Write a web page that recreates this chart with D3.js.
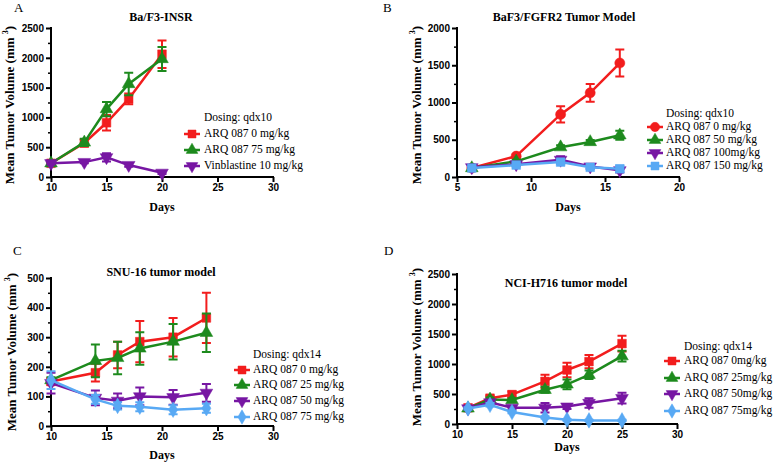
<!DOCTYPE html>
<html><head><meta charset="utf-8">
<script src="https://cdn.jsdelivr.net/npm/d3@7"></script>
<style>
body{margin:0;background:#fff;}
svg{display:block;}
.tick text{font-family:Arial,"Liberation Sans",sans-serif;font-weight:bold;font-size:10px;fill:#000;}
</style></head>
<body>
<script>
// ---------- DATA ----------
const daysA = [10, 13, 15, 17, 20];
const aARQ0 = [230, 570, 910, 1310, 2060];
const aARQ0Err = [30, 60, 130, 90, 230];
const aARQ75 = [230, 580, 1140, 1560, 1980];
const aARQ75Err = [30, 60, 120, 190, 200];
const aVin = [230, 250, 330, 200, 70];
const aVinErr = [20, 20, 70, 30, 20];
const legendA = ["ARQ 087 0 mg/kg", "ARQ 087 75 mg/kg", "Vinblastine 10 mg/kg"];

const daysB = [6, 9, 12, 14, 16];
const bARQ0 = [120, 280, 840, 1130, 1530];
const bARQ0Err = [20, 25, 110, 120, 180];
const bARQ50 = [120, 210, 400, 470, 560];
const bARQ50Err = [15, 20, 25, 25, 60];
const bARQ100 = [130, 170, 230, 140, 90];
const bARQ100Err = [20, 20, 50, 30, 30];
const bARQ150 = [120, 160, 200, 130, 110];
const bARQ150Err = [20, 20, 30, 20, 40];
const legendB = ["ARQ 087 0 mg/kg", "ARQ 087 50 mg/kg", "ARQ 087 100mg/kg", "ARQ 087 150 mg/kg"];

const daysC = [10, 14, 16, 18, 21, 24];
const cARQ0 = [150, 180, 240, 285, 300, 365];
const cARQ0Err = [10, 30, 45, 70, 65, 85];
const cARQ25 = [155, 220, 230, 262, 285, 315];
const cARQ25Err = [10, 55, 55, 55, 60, 65];
const cARQ50 = [145, 95, 85, 100, 97, 112];
const cARQ50Err = [35, 25, 25, 30, 25, 30];
const cARQ75 = [155, 90, 68, 65, 55, 60];
const cARQ75Err = [30, 15, 12, 15, 15, 15];
const legendC = ["ARQ 087 0 mg/kg", "ARQ 087 25 mg/kg", "ARQ 087 50 mg/kg", "ARQ 087 75 mg/kg"];

const daysD = [11, 13, 15, 18, 20, 22, 25];
const dARQ0 = [270, 430, 490, 710, 900, 1040, 1340];
const dARQ0Err = [30, 40, 50, 110, 120, 110, 130];
const dARQ25 = [260, 410, 400, 570, 660, 820, 1130];
const dARQ25Err = [20, 30, 30, 50, 80, 70, 90];
const dARQ50 = [260, 360, 270, 270, 290, 350, 430];
const dARQ50Err = [20, 30, 30, 80, 40, 80, 90];
const dARQ75 = [260, 320, 200, 110, 70, 60, 60];
const dARQ75Err = [20, 30, 20, 20, 15, 10, 10];
const legendD = ["ARQ 087 0mg/kg", "ARQ 087 25mg/kg", "ARQ 087 50mg/kg", "ARQ 087 75mg/kg"];

const xTicksA = [10, 15, 20, 25, 30];
const xTicksB = [5, 10, 15, 20];
const yTicksA = [0, 500, 1000, 1500, 2000, 2500];
const yTicksB = [0, 500, 1000, 1500, 2000];
const yTicksC = [0, 100, 200, 300, 400, 500];
const titles = ["Ba/F3-INSR", "BaF3/FGFR2 Tumor Model", "SNU-16 tumor model", "NCI-H716 tumor model"];
const dosing = ["Dosing: qdx10", "Dosing: qdx10", "Dosing: qdx14", "Dosing: qdx14"];
const letters = ["A", "B", "C", "D"];

// ---------- STYLE ----------
const RED = "#f21d1d", GREEN = "#1d8a1d", PURPLE = "#7716a3", BLUE = "#58a9f4";

const panels = [
  { letter: letters[0], title: titles[0], dosing: dosing[0],
    x0: 51, x1: 273, yTop: 28, yBot: 177, xDom: [10, 30], yDom: [0, 2500],
    xTicks: xTicksA, yTicks: yTicksA, minorStep: 250,
    letterPos: [14, 12], titlePos: [161, 21], ylabX: 11, ylabY: 105, daysY: 211,
    leg: { x: 192, tx: 204, y0: 118, ys: [134, 150, 166] },
    series: [
      { days: daysA, v: aARQ0, e: aARQ0Err, c: RED, m: "square", name: legendA[0] },
      { days: daysA, v: aARQ75, e: aARQ75Err, c: GREEN, m: "triangle", name: legendA[1] },
      { days: daysA, v: aVin, e: aVinErr, c: PURPLE, m: "tridown", name: legendA[2] } ] },
  { letter: letters[1], title: titles[1], dosing: dosing[1],
    x0: 457, x1: 679, yTop: 28, yBot: 177, xDom: [5, 20], yDom: [0, 2000],
    xTicks: xTicksB, yTicks: yTicksB, minorStep: 250,
    letterPos: [383, 12], titlePos: [564, 21], ylabX: 418, ylabY: 105, daysY: 211,
    leg: { x: 655, tx: 666, y0: 114, ys: [127, 140, 153, 166] },
    series: [
      { days: daysB, v: bARQ0, e: bARQ0Err, c: RED, m: "circle", name: legendB[0] },
      { days: daysB, v: bARQ50, e: bARQ50Err, c: GREEN, m: "triangle", name: legendB[1] },
      { days: daysB, v: bARQ100, e: bARQ100Err, c: PURPLE, m: "tridown", name: legendB[2] },
      { days: daysB, v: bARQ150, e: bARQ150Err, c: BLUE, m: "square", name: legendB[3] } ] },
  { letter: letters[2], title: titles[2], dosing: dosing[2],
    x0: 51, x1: 273, yTop: 278, yBot: 426, xDom: [10, 30], yDom: [0, 500],
    xTicks: xTicksA, yTicks: yTicksC, minorStep: 50,
    letterPos: [13, 255], titlePos: [161, 276], ylabX: 13, ylabY: 352, daysY: 459,
    leg: { x: 242, tx: 253, y0: 355, ys: [370, 385, 401, 417] },
    series: [
      { days: daysC, v: cARQ0, e: cARQ0Err, c: RED, m: "square", name: legendC[0] },
      { days: daysC, v: cARQ25, e: cARQ25Err, c: GREEN, m: "triangle", name: legendC[1] },
      { days: daysC, v: cARQ50, e: cARQ50Err, c: PURPLE, m: "tridown", name: legendC[2] },
      { days: daysC, v: cARQ75, e: cARQ75Err, c: BLUE, m: "diamond", name: legendC[3] } ] },
  { letter: letters[3], title: titles[3], dosing: dosing[3],
    x0: 457, x1: 677, yTop: 274, yBot: 424, xDom: [10, 30], yDom: [0, 2500],
    xTicks: xTicksA, yTicks: yTicksA, minorStep: 250,
    letterPos: [384, 255], titlePos: [566, 287], ylabX: 418, ylabY: 347, daysY: 451,
    leg: { x: 672, tx: 684, y0: 347, ys: [361, 378, 394, 411] },
    series: [
      { days: daysD, v: dARQ0, e: dARQ0Err, c: RED, m: "square", name: legendD[0] },
      { days: daysD, v: dARQ25, e: dARQ25Err, c: GREEN, m: "triangle", name: legendD[1] },
      { days: daysD, v: dARQ50, e: dARQ50Err, c: PURPLE, m: "tridown", name: legendD[2] },
      { days: daysD, v: dARQ75, e: dARQ75Err, c: BLUE, m: "diamond", name: legendD[3] } ] }
];

const svg = d3.select("body").append("svg").attr("width", 777).attr("height", 464);
const SERIF = "'Times New Roman','Liberation Serif',Times,serif";
const LEGSIZE = 11.5;

function markerPath(type, scale) {
  const map = { square: d3.symbolSquare, circle: d3.symbolCircle, triangle: d3.symbolTriangle,
                tridown: d3.symbolTriangle, diamond: d3.symbolDiamond };
  const size = { square: 75, circle: 80, triangle: 70, tridown: 70, diamond: 70 }[type] * (scale || 1);
  return d3.symbol().type(map[type]).size(size)();
}
function drawMarker(g, type, x, y, color, scale) {
  g.append("path").attr("d", markerPath(type, scale))
    .attr("transform", `translate(${x},${y})` + (type === "tridown" ? " rotate(180)" : ""))
    .attr("fill", color).attr("stroke", color).attr("stroke-width", 0.5);
}

panels.forEach(p => {
  const x = d3.scaleLinear().domain(p.xDom).range([p.x0, p.x1]);
  const y = d3.scaleLinear().domain(p.yDom).range([p.yBot, p.yTop]);
  const g = svg.append("g");

  // minor y ticks
  const minors = d3.range(p.yDom[0] + p.minorStep, p.yDom[1], p.minorStep * 2);
  g.append("g").attr("transform", `translate(${p.x0},0)`)
    .call(d3.axisLeft(y).tickValues(minors).tickSize(3).tickFormat(""))
    .call(s => s.select(".domain").remove())
    .call(s => s.selectAll("line").attr("stroke", "#000").attr("stroke-width", 1.5));

  // y axis
  g.append("g").attr("transform", `translate(${p.x0},0)`)
    .call(d3.axisLeft(y).tickValues(p.yTicks).tickFormat(d3.format("d")).tickSize(5).tickSizeOuter(0).tickPadding(2))
    .call(s => s.select(".domain").attr("stroke", "#000").attr("stroke-width", 2).attr("d", `M0,${p.yTop - 1}V${p.yBot + 1}`))
    .call(s => s.selectAll(".tick line").attr("stroke", "#000").attr("stroke-width", 2));

  // x axis
  g.append("g").attr("transform", `translate(0,${p.yBot})`)
    .call(d3.axisBottom(x).tickValues(p.xTicks).tickFormat(d3.format("d")).tickSize(5).tickSizeOuter(0).tickPadding(2))
    .call(s => s.select(".domain").attr("stroke", "#000").attr("stroke-width", 2).attr("d", `M${p.x0 - 1},0H${p.x1 + 1}`))
    .call(s => s.selectAll(".tick line").attr("stroke", "#000").attr("stroke-width", 2));

  // letters, titles, axis labels
  svg.append("text").attr("x", p.letterPos[0]).attr("y", p.letterPos[1])
    .attr("font-family", SERIF).attr("font-size", 13).text(p.letter);
  svg.append("text").attr("x", p.titlePos[0]).attr("y", p.titlePos[1]).attr("text-anchor", "middle")
    .attr("font-family", SERIF).attr("font-weight", "bold").attr("font-size", 12).text(p.title);
  svg.append("text").attr("x", (p.x0 + p.x1) / 2).attr("y", p.daysY).attr("text-anchor", "middle")
    .attr("font-family", SERIF).attr("font-weight", "bold").attr("font-size", 12).text("Days");
  const yl = svg.append("text").attr("transform", `translate(${p.ylabX},${p.ylabY}) rotate(-90)`)
    .attr("text-anchor", "middle").attr("dominant-baseline", "middle")
    .attr("font-family", SERIF).attr("font-weight", "bold").attr("font-size", 13);
  yl.append("tspan").text("Mean Tumor Volume (mm ");
  yl.append("tspan").attr("dy", -5).attr("font-size", 8).text("3");
  yl.append("tspan").attr("dy", 5).text(")");

  // series
  const line = d3.line().x(d => x(d[0])).y(d => y(d[1]));
  p.series.forEach(s => {
    const sg = g.append("g");
    const pts = s.days.map((d, i) => [d, s.v[i], s.e[i]]);
    pts.forEach(d => {
      const cx = x(d[0]), yt = y(d[1] + d[2]), yb = y(d[1] - d[2]);
      sg.append("path").attr("d", `M${cx},${yt}V${yb}M${cx - 4.5},${yt}H${cx + 4.5}M${cx - 4.5},${yb}H${cx + 4.5}`)
        .attr("stroke", s.c).attr("stroke-width", 2).attr("fill", "none");
    });
    sg.append("path").datum(pts).attr("d", line).attr("fill", "none")
      .attr("stroke", s.c).attr("stroke-width", 2.5);
    pts.forEach(d => drawMarker(sg, s.m, x(d[0]), y(d[1]), s.c));
  });

  // legend
  svg.append("text").attr("x", p.leg.tx).attr("y", p.leg.y0).attr("dominant-baseline", "middle")
    .attr("font-family", SERIF).attr("font-size", LEGSIZE).text(p.dosing);
  p.series.forEach((s, i) => {
    const ly = p.leg.ys[i];
    svg.append("path").attr("d", `M${p.leg.x - 8},${ly}H${p.leg.x + 8}`)
      .attr("stroke", s.c).attr("stroke-width", 2.5);
    drawMarker(svg, s.m, p.leg.x, ly, s.c, 0.85);
    svg.append("text").attr("x", p.leg.tx).attr("y", ly).attr("dominant-baseline", "middle")
      .attr("font-family", SERIF).attr("font-size", LEGSIZE).text(s.name);
  });
});
</script>
</body></html>
